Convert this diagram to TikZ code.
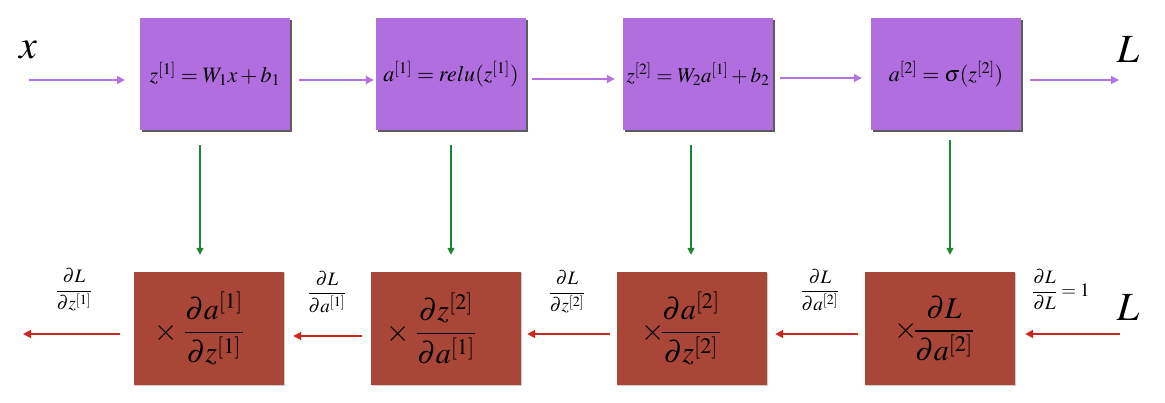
\documentclass[tikz,border=0pt]{standalone}
\usepackage{amsmath}
\usepackage{mathptmx}
\usetikzlibrary{shadows,arrows.meta}
\definecolor{fwd}{RGB}{176,110,222}
\definecolor{fwdarrow}{RGB}{180,114,226}
\definecolor{bwd}{RGB}{168,70,56}
\definecolor{bwdarrow}{RGB}{200,40,30}
\definecolor{grn}{RGB}{30,135,45}
\begin{document}
\begin{tikzpicture}[x=1pt,y=-1pt,
  fbox/.style={fill=fwd, minimum width=150pt, minimum height=112pt, inner sep=0pt,
    drop shadow={shadow xshift=2pt, shadow yshift=-2pt, fill=black!80, opacity=0.8},
    font=\fontsize{22}{26}\selectfont},
  bbox/.style={fill=bwd, minimum width=150pt, minimum height=113pt, inner sep=0pt,
    drop shadow={shadow xshift=1pt, shadow yshift=-1pt, fill=black!40, opacity=0.5},
    font=\fontsize{30}{34}\selectfont},
  farrow/.style={draw=fwdarrow, line width=1.8pt, -{Triangle[length=8pt,width=8pt]}},
  barrow/.style={draw=bwdarrow, line width=1.8pt, -{Triangle[length=8pt,width=8pt]}},
  garrow/.style={draw=grn, line width=1.3pt, -{Triangle[length=7pt,width=7pt]}},
  biglbl/.style={inner sep=0pt, font=\fontsize{40}{44}\selectfont},
  smalllbl/.style={inner sep=0pt, font=\fontsize{19}{22}\selectfont}
]
\useasboundingbox (0,0) rectangle (1165,403);

% forward boxes
\node[fbox] (t1) at (215,74) {$z^{[1]}=W_1x+b_1$};
\node[fbox] (t2) at (451,74) {$a^{[1]}=relu(z^{[1]})$};
\node[fbox, font=\fontsize{21}{25}\selectfont] (t3) at (698,74) {$z^{[2]}=W_2a^{[1]}+b_2$};
\node[fbox] (t4) at (946,74) {$a^{[2]}=\sigma(z^{[2]})$};

% backward boxes
\node[bbox] (b1) at (209,328.5) {$\times\;\dfrac{\partial a^{[1]}}{\partial z^{[1]}}$\hspace*{20pt}};
\node[bbox] (b2) at (446,328.5) {$\times\;\dfrac{\partial z^{[2]}}{\partial a^{[1]}}$\hspace*{30pt}};
\node[bbox] (b3) at (692,328.5) {$\times\!\dfrac{\partial a^{[2]}}{\partial z^{[2]}}$\hspace*{22pt}};
\node[bbox] (b4) at (940,328.5) {$\times\!\dfrac{\partial L}{\partial a^{[2]}}$\hspace*{12pt}};

% outer labels
\node[biglbl] (x) at (28,50) {$x$};
\node[biglbl] (Ltop) at (1128,50) {$L$};
\node[biglbl] (Lbot) at (1128,308) {$L$};

\coordinate (xs) at (29,80);
\coordinate (xe) at (125,80);
\coordinate (Le) at (1119,80);
\coordinate (Ls) at (1120,334);
\coordinate (oe) at (23,334);

% forward arrows
\draw[farrow] (xs) -- (xe);
\draw[farrow, shorten <=9pt, shorten >=2pt] ([yshift=-6pt]t1.east) -- ([yshift=-6pt]t2.west);
\draw[farrow, shorten <=6pt, shorten >=8pt] ([yshift=-5pt]t2.east) -- ([yshift=-5pt]t3.west);
\draw[farrow, shorten <=7pt, shorten >=9pt] ([yshift=-4pt]t3.east) -- ([yshift=-4pt]t4.west);
\draw[farrow, shorten <=9pt] ([yshift=-6pt]t4.east) -- (Le);

% green arrows
\draw[garrow, shorten <=15pt, shorten >=17pt] ([xshift=-15pt]t1.south) -- ([xshift=-15pt]t1.south |- b1.north);
\draw[garrow, shorten <=15pt, shorten >=17pt] (t2.south) -- (t2.south |- b2.north);
\draw[garrow, shorten <=15pt, shorten >=17pt] ([xshift=-7pt]t3.south) -- ([xshift=-7pt]t3.south |- b3.north);
\draw[garrow, shorten <=10pt, shorten >=17pt] ([xshift=4pt]t4.south) -- ([xshift=4pt]t4.south |- b4.north);

% backward arrows
\draw[barrow, shorten >=10pt] (Ls) -- ([yshift=-5.5pt]b4.east);
\draw[barrow, shorten <=7pt, shorten >=8pt] ([yshift=-5.5pt]b4.west) -- ([yshift=-5.5pt]b3.east);
\draw[barrow, shorten <=7pt, shorten >=6pt] ([yshift=-5.5pt]b3.west) -- ([yshift=-5.5pt]b2.east);
\draw[barrow, shorten <=9pt, shorten >=9pt] ([yshift=-7.5pt]b2.west) -- ([yshift=-7.5pt]b1.east);
\draw[barrow, shorten <=14pt] ([yshift=-5.5pt]b1.west) -- (oe);

% gradient labels
\node[smalllbl] (g1) at (74,290) {$\dfrac{\partial L}{\partial z^{[1]}}$};
\node[smalllbl] (g2) at (327,292) {$\dfrac{\partial L}{\partial a^{[1]}}$};
\node[smalllbl] (g3) at (567,292) {$\dfrac{\partial L}{\partial z^{[2]}}$};
\node[smalllbl] (g4) at (820,290) {$\dfrac{\partial L}{\partial a^{[2]}}$};
\node[smalllbl] (g5) at (1061,290) {$\dfrac{\partial L}{\partial L}=1$};
\end{tikzpicture}
\end{document}
